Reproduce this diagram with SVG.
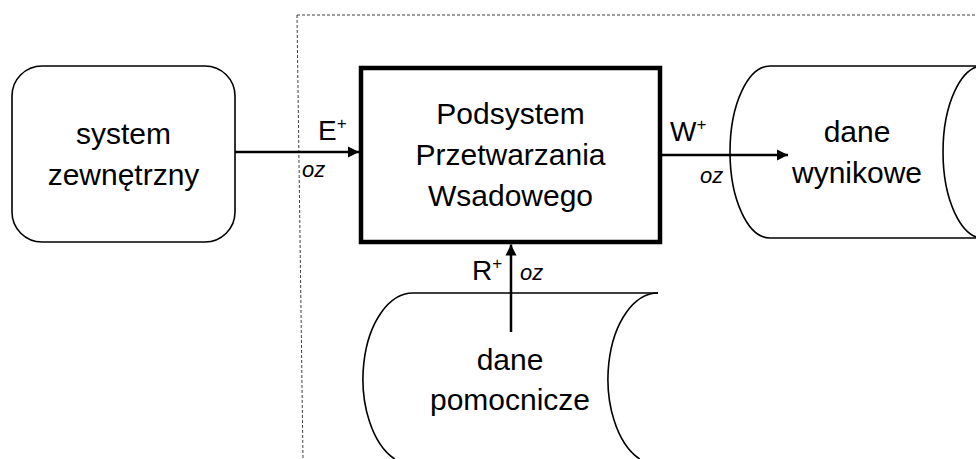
<svg xmlns="http://www.w3.org/2000/svg" width="976" height="459" viewBox="0 0 976 459">
  <style>
    .lbl { font-family: "Liberation Sans", Arial, sans-serif; font-size: 30px; fill: #000; text-anchor: middle; }
    .flow { font-family: "Liberation Sans", Arial, sans-serif; font-size: 28px; fill: #000; }
    .sup { font-size: 17px; }
    .oz { font-family: "Liberation Sans", Arial, sans-serif; font-size: 22px; font-style: italic; fill: #000; }
    .shape { fill: #fff; stroke: #000; stroke-width: 1.6; }
    .edge { fill: none; stroke: #000; stroke-width: 1.6; }
    .conn { fill: none; stroke: #000; stroke-width: 2.5; }
    .bound { fill: none; stroke: #404040; stroke-width: 1; stroke-dasharray: 3 2; }
  </style>
  <defs>
    <marker id="arr" viewBox="0 0 10 10" refX="10" refY="5" markerWidth="4.4" markerHeight="4.6" markerUnits="strokeWidth" orient="auto">
      <path d="M0,0 L10,5 L0,10 Z" fill="#000"/>
    </marker>
  </defs>
  <rect width="976" height="459" fill="#fff"/>

  <g id="boundary">
    <path class="bound" d="M297,15 L976,15"/>
    <path class="bound" d="M297,15 L303,459"/>
  </g>

  <g id="system-zewnetrzny">
    <rect class="shape" x="12" y="66" width="223" height="176" rx="30" ry="30"/>
    <text class="lbl" x="123.5" y="144">system</text>
    <text class="lbl" x="123.5" y="185">zewnętrzny</text>
  </g>

  <g id="podsystem">
    <rect x="361" y="68" width="299" height="174" fill="#fff" stroke="#000" stroke-width="4.5"/>
    <text class="lbl" x="510.5" y="124">Podsystem</text>
    <text class="lbl" x="510.5" y="165">Przetwarzania</text>
    <text class="lbl" x="510.5" y="206">Wsadowego</text>
  </g>

  <g id="dane-wynikowe">
    <path class="shape" d="M770,66 L983,66 L983,238 L770,238 A40,86 0 0 1 770,66 Z"/>
    <path class="edge" d="M983,66 A40,86 0 0 0 983,238"/>
    <text class="lbl" x="857" y="142">dane</text>
    <text class="lbl" x="857" y="183">wynikowe</text>
  </g>

  <g id="dane-pomocnicze">
    <path fill="#fff" stroke="none" d="M658,293 L413,293 A50,86 0 0 0 394.6,459 L639.6,459 Z"/>
    <path class="edge" d="M658,293 L413,293 A50,86 0 0 0 394.6,459"/>
    <path class="edge" d="M658,293 A50,86 0 0 0 639.6,459"/>
    <text class="lbl" x="510" y="370">dane</text>
    <text class="lbl" x="510" y="410">pomocnicze</text>
  </g>

  <g id="connectors">
    <path class="conn" d="M235,152 L359,152" marker-end="url(#arr)"/>
    <path class="conn" d="M662,155 L788,155" marker-end="url(#arr)"/>
    <path class="conn" d="M511,332 L511,244.5" marker-end="url(#arr)"/>
  </g>

  <g id="labels">
    <text class="flow" x="318" y="140">E<tspan class="sup" dy="-11">+</tspan></text>
    <text class="oz" x="302" y="177">oz</text>
    <text class="flow" x="670" y="141">W<tspan class="sup" dy="-11">+</tspan></text>
    <text class="oz" x="700" y="183">oz</text>
    <text class="flow" x="472" y="280">R<tspan class="sup" dy="-11">+</tspan></text>
    <text class="oz" x="520" y="280">oz</text>
  </g>
</svg>
